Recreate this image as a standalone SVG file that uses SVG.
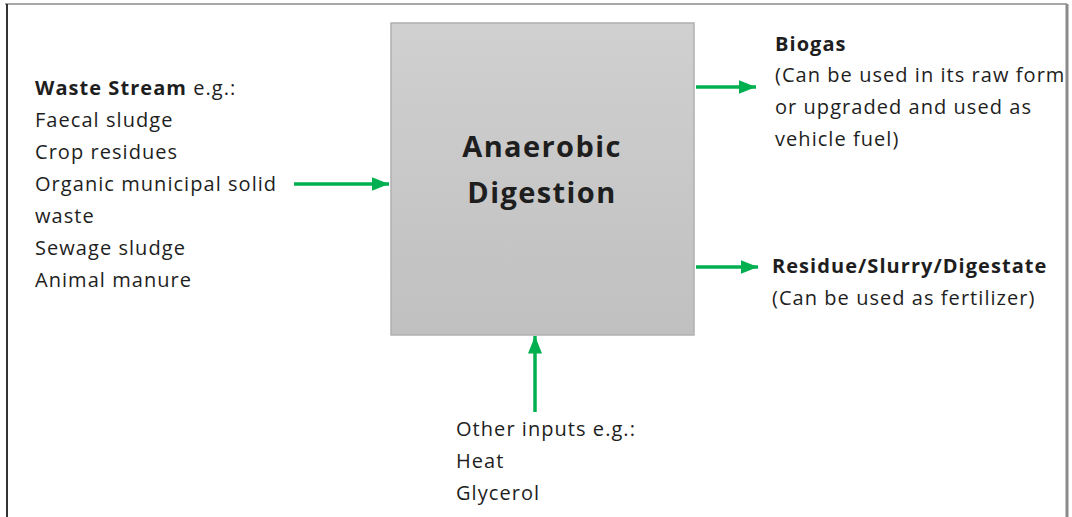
<svg xmlns="http://www.w3.org/2000/svg" width="1072" height="517" viewBox="0 0 1072 517">
  <style>
    .t { font-family: "Open Sans", "Liberation Sans", sans-serif; font-size: 20px; letter-spacing: 1.05px; fill: #1e1e1e; }
    .b { font-weight: bold; }
    .title { font-family: "Open Sans", "Liberation Sans", sans-serif; font-size: 29px; letter-spacing: 1.4px; font-weight: bold; fill: #1e1e1e; }
    .flow { stroke: #00b050; stroke-width: 3.5; fill: none; }
  </style>
  <defs>
    <linearGradient id="boxFill" x1="0" y1="0" x2="0" y2="1">
      <stop offset="0" stop-color="#d0d0d0"/>
      <stop offset="1" stop-color="#c0c0c0"/>
    </linearGradient>
    <marker id="head" markerWidth="5" markerHeight="4" refX="5" refY="2" orient="auto" markerUnits="strokeWidth">
      <path d="M0,0 L5,2 L0,4 Z" fill="#00b050"/>
    </marker>
  </defs>

  <!-- page frame -->
  <rect x="0" y="0" width="1072" height="517" fill="#ffffff"/>
  <line x1="5" y1="4" x2="1067" y2="4" stroke="#8a8a8a" stroke-width="1.5"/>
  <line x1="7" y1="4" x2="7" y2="517" stroke="#333333" stroke-width="2"/>
  <line x1="1067" y1="4" x2="1067" y2="517" stroke="#8a8a8a" stroke-width="3"/>

  <!-- central process -->
  <g id="digester">
    <rect x="391" y="23" width="303" height="312" fill="url(#boxFill)" stroke="#b0b0b0" stroke-width="1.5"/>
    <text class="title" x="542" y="157" text-anchor="middle">Anaerobic</text>
    <text class="title" x="542" y="203" text-anchor="middle">Digestion</text>
  </g>

  <g id="waste-stream">
    <text class="t" x="35" y="95"><tspan class="b">Waste Stream</tspan> e.g.:</text>
    <text class="t" x="35" y="127">Faecal sludge</text>
    <text class="t" x="35" y="159">Crop residues</text>
    <text class="t" x="35" y="191">Organic municipal solid</text>
    <text class="t" x="35" y="223">waste</text>
    <text class="t" x="35" y="255">Sewage sludge</text>
    <text class="t" x="35" y="287">Animal manure</text>
  </g>

  <g id="biogas">
    <text class="t b" x="775" y="51">Biogas</text>
    <text class="t" x="775" y="82">(Can be used in its raw form</text>
    <text class="t" x="775" y="114">or upgraded and used as</text>
    <text class="t" x="775" y="146">vehicle fuel)</text>
  </g>

  <g id="digestate">
    <text class="t b" x="772" y="273">Residue/Slurry/Digestate</text>
    <text class="t" x="772" y="305">(Can be used as fertilizer)</text>
  </g>

  <g id="other-inputs">
    <text class="t" x="456" y="436">Other inputs e.g.:</text>
    <text class="t" x="456" y="468">Heat</text>
    <text class="t" x="456" y="500">Glycerol</text>
  </g>

  <g id="connectors">
    <line class="flow" x1="294" y1="184" x2="389" y2="184" marker-end="url(#head)"/>
    <line class="flow" x1="535" y1="412" x2="535" y2="336" marker-end="url(#head)"/>
    <line class="flow" x1="696" y1="87" x2="756" y2="87" marker-end="url(#head)"/>
    <line class="flow" x1="696" y1="267" x2="758" y2="267" marker-end="url(#head)"/>
  </g>
</svg>
